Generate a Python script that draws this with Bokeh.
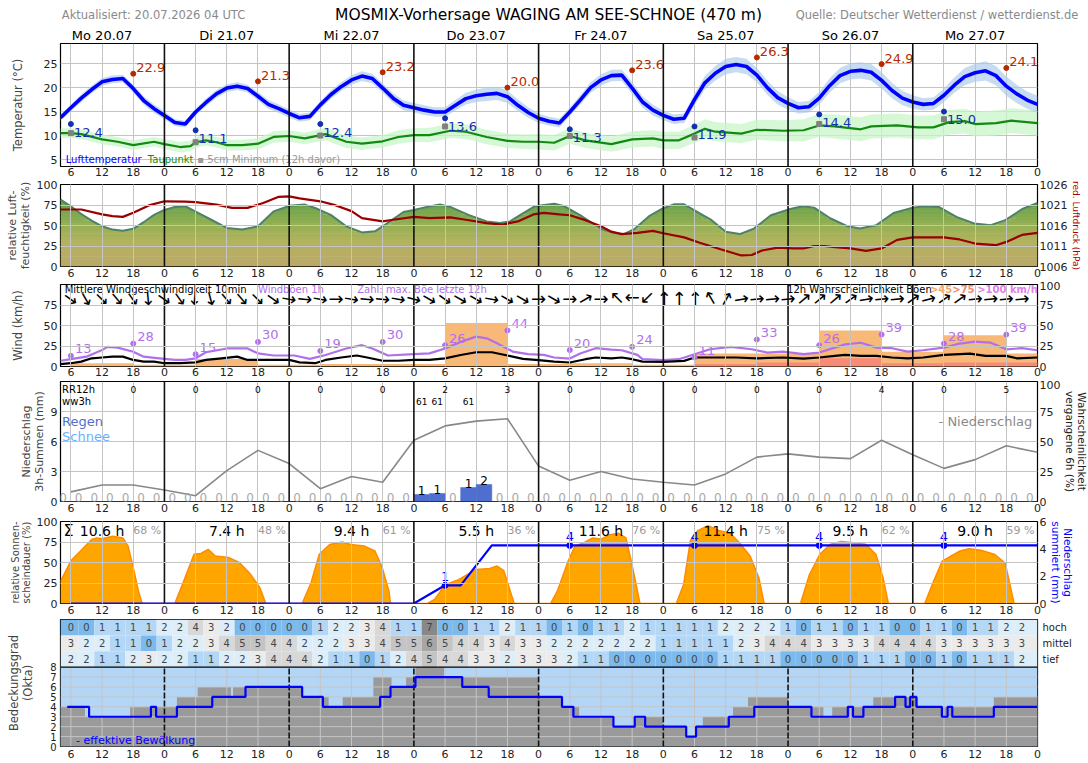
import numpy as np
from bokeh.plotting import figure
from bokeh.layouts import column
from bokeh.models import Range1d, LinearAxis, FixedTicker, Span, BoxAnnotation, Label
from bokeh.core.properties import value
from bokeh.embed import file_html
from bokeh.resources import INLINE

FONT = "DejaVu Sans"

# ---------------------------------------------------------------- time axis
# hours after Mo 20.07 00 UTC
T_START, T_END = 4, 192
DAYS = ["Mo 20.07", "Di 21.07", "Mi 22.07", "Do 23.07",
        "Fr 24.07", "Sa 25.07", "So 26.07", "Mo 27.07"]
HOUR_TICKS = list(range(6, 193, 6))
DAY_BOUNDS = list(range(24, 192, 24))

# ---------------------------------------------------------------- temperature
temp_h = list(range(4, 193, 2))
temp_c = [13.7, 15.8, 17.8, 19.6, 21.2, 21.7, 21.9, 19.8, 17.3, 15.6,
          14.2, 12.7, 12.4, 14.9, 16.9, 18.7, 19.9, 20.3, 19.8, 18.2, 16.5, 15.6,
          14.6, 13.7, 14.0, 16.4, 18.5, 20.2, 21.6, 22.4, 21.9, 19.9, 17.8, 16.3,
          15.8, 15.3, 14.9, 14.9, 16.3, 17.7, 18.3, 18.6, 18.8, 18.1, 16.3, 14.8,
          13.6, 13.0, 12.6, 14.9, 17.4, 20.0, 21.6, 22.5, 22.6, 19.9, 17.0, 15.3,
          14.2, 13.4, 13.6, 17.5, 21.0, 23.0, 24.4, 24.8, 24.4, 22.6, 20.0, 17.9,
          16.7, 15.8, 16.0, 17.8, 20.4, 22.5, 23.4, 23.6, 23.2, 21.5, 19.4, 17.8,
          17.0, 16.5, 16.7, 18.4, 20.5, 22.3, 23.1, 23.5, 22.5, 20.3, 18.7, 17.4, 16.5]
temp_spread = [0.7, 0.7, 0.8, 0.8, 0.8, 0.8, 0.8, 0.8, 0.9, 0.9,
               0.8, 0.7, 0.7, 0.7, 0.8, 0.8, 0.8, 0.8, 0.8, 0.9, 0.9, 0.9,
               0.9, 0.8, 0.8, 0.8, 0.9, 0.9, 1.0, 1.0, 1.0, 1.0, 1.0, 1.0,
               1.0, 1.0, 1.0, 1.0, 1.1, 1.2, 1.3, 1.4, 1.4, 1.3, 1.2, 1.1,
               1.0, 0.9, 0.9, 0.9, 1.0, 1.1, 1.2, 1.2, 1.2, 1.2, 1.2, 1.1,
               1.0, 1.0, 1.0, 1.2, 1.4, 1.5, 1.6, 1.6, 1.6, 1.5, 1.5, 1.4,
               1.3, 1.2, 1.2, 1.3, 1.5, 1.6, 1.7, 1.7, 1.7, 1.7, 1.6, 1.5,
               1.4, 1.3, 1.3, 1.4, 1.6, 1.8, 1.9, 2.0, 2.0, 2.0, 1.9, 1.8, 1.8]
dew_h = [4, 6, 8, 12, 15, 18, 22, 24, 27, 29, 30, 32, 34, 36, 39, 42, 45, 48, 51, 55,
         59, 62, 66, 69, 72, 75, 79, 82, 86, 90, 93, 96, 99, 102, 105, 110, 114, 118,
         120, 123, 126, 128, 130, 135, 138, 143, 147, 150, 153, 158, 160, 165, 169,
         172, 175, 178, 180, 184, 187, 192]
dew_c = [10.5, 10.5, 10.3, 9.2, 8.7, 8.0, 8.7, 8.2, 7.6, 7.8, 8.6, 9.0, 8.6, 8.0, 8.0,
         8.3, 9.7, 9.9, 9.4, 10.3, 8.7, 8.3, 8.8, 9.7, 10.1, 10.1, 11.0, 10.8, 9.7, 8.9,
         8.7, 8.7, 8.5, 9.9, 9.0, 8.2, 9.2, 9.4, 9.0, 9.0, 10.4, 11.4, 10.8, 10.4, 11.2,
         11.0, 11.1, 12.1, 11.9, 11.3, 11.9, 12.1, 11.7, 11.7, 12.8, 13.0, 12.4, 12.6,
         13.1, 12.6]
dew_spread = [1.0, 1.0, 1.0, 1.0, 1.0, 1.0, 1.0, 1.0, 1.1, 1.1, 1.1, 1.1, 1.1, 1.1, 1.1,
              1.2, 1.2, 1.2, 1.2, 1.3, 1.3, 1.3, 1.3, 1.4, 1.4, 1.5, 1.5, 1.5, 1.5, 1.5,
              1.5, 1.6, 1.6, 1.6, 1.6, 1.6, 1.7, 1.7, 1.8, 1.8, 1.9, 2.0, 2.0, 2.0, 2.1,
              2.2, 2.3, 2.4, 2.5, 2.5, 2.5, 2.5, 2.5, 2.5, 2.6, 2.6, 2.6, 2.6, 2.6, 2.6]
tmax_h = [18, 42, 66, 90, 114, 138, 162, 186]
tmax = [22.9, 21.3, 23.2, 20.0, 23.6, 26.3, 24.9, 24.1]
tmin_h = [6, 30, 54, 78, 102, 126, 150, 174]
tmin = [12.4, 11.1, 12.4, 13.6, 11.3, 11.9, 14.4, 15.0]
t5cm = [10.5, 8.6, 10.0, 11.9, 9.9, 9.6, 12.4, 13.4]

# ---------------------------------------------------------------- humidity / pressure
hum_h = [4, 6, 8, 10, 12, 14, 16, 18, 20, 22, 24, 26, 28, 30, 33, 36, 39, 42, 45, 48,
         51, 53, 56, 59, 62, 64.5, 66.5, 70, 72, 74.5, 77, 79, 82.5, 86, 88.5, 90.5,
         92.5, 95.3, 99, 101, 104.4, 108, 110.4, 112.4, 114.5, 117.2, 119.8, 122, 124,
         126, 129.3, 132, 134.7, 137.4, 140.7, 144, 146.8, 149, 152.2, 155.5, 157.8,
         161, 164.3, 168, 170.3, 173, 176.4, 179.8, 183, 185.8, 189.2, 192]
hum = [81.6, 73.5, 64, 56, 49, 45, 43.7, 46, 54, 63, 69, 72.7, 73.5, 67, 57, 47, 45,
       49, 67, 74, 75.5, 71.4, 63, 49, 41.6, 42.9, 51, 66.5, 69, 72.7, 75.5, 72.7, 63,
       55, 53, 55, 63, 73.5, 76.6, 73.4, 61, 46, 41, 39.5, 46, 61, 70.6, 75.8, 75.8,
       68.5, 56.5, 42.3, 39.5, 46, 62.5, 69.4, 73.4, 71.8, 58.5, 49, 46.4, 50.4, 65.3,
       71.8, 73.4, 72.6, 60.5, 52.4, 50.4, 56.5, 70.6, 77.4]
pres_h = [4, 8, 12, 14, 16, 18, 21, 24, 28, 30, 34, 37, 40, 43, 46, 48, 50, 54, 57, 60,
          62, 66, 68, 72, 75, 79, 82, 86, 89, 92, 95, 97, 100, 102, 105, 108, 110, 112,
          115, 118, 120, 124, 127, 131, 135, 137, 139, 142, 145, 147, 149, 151, 153,
          156, 159, 162, 165, 168, 174, 177, 180, 184, 186, 189, 192]
pres = [1019.9, 1019.9, 1018.7, 1018.3, 1018.1, 1019.1, 1020.9, 1021.9, 1021.8, 1021.7,
        1021.1, 1020.3, 1020.3, 1021.5, 1023.0, 1023.1, 1022.6, 1021.9, 1020.9, 1019.5,
        1017.8, 1017.0, 1017.4, 1018.1, 1017.8, 1018.0, 1017.4, 1016.6, 1016.2, 1017.0,
        1018.7, 1019.1, 1018.7, 1018.5, 1017.3, 1015.8, 1014.5, 1013.9, 1014.2, 1014.7,
        1014.1, 1013.1, 1011.8, 1010.2, 1008.7, 1008.8, 1009.9, 1010.6, 1010.4, 1010.4,
        1011.0, 1011.0, 1010.7, 1010.4, 1009.8, 1010.4, 1012.5, 1013.1, 1013.1, 1012.6,
        1011.6, 1011.2, 1012.0, 1013.7, 1014.2]

# ---------------------------------------------------------------- wind
wind_h = [4, 6, 8, 10, 12, 14, 16, 18, 20, 22, 24, 27, 30, 32, 35, 38, 40, 44, 48, 50,
          53, 55, 58, 61, 63, 66, 69, 72, 75, 78, 81, 84, 87, 90, 93, 96, 99, 102, 105,
          107, 110, 112, 114, 116, 120, 124, 126, 130, 134, 138, 143, 147, 150, 153,
          155, 158, 161, 164, 167, 170, 174, 179, 182, 186, 188, 192]
wind = [2.8, 4, 6, 10, 11, 12, 12, 8, 6, 6, 4, 4, 5, 8, 10, 12, 8, 8, 8, 5, 4, 8, 11,
        13.4, 11, 7, 7, 8, 8, 10, 14, 17.4, 17.4, 13.4, 9.3, 7.7, 6, 4.9, 8.9, 11, 10,
        11, 8.9, 6, 5.7, 6.9, 11, 11, 11, 10, 11, 9.7, 11, 13, 14.2, 13, 13, 11, 10, 11,
        14.2, 15.8, 13, 13, 10, 11]
gust_h = [4, 6, 9, 12, 13, 15, 18, 20, 23, 26, 28, 30, 32, 36, 40, 42, 45, 49, 52, 55,
          59, 62, 64, 67, 72, 75, 78, 81, 84, 86, 88, 91, 94, 97, 99, 102, 104, 107, 110,
          112, 115, 116, 120, 123, 126, 129, 133, 137, 140, 143, 147, 150, 153, 155, 158,
          161, 164, 167, 170, 174, 177, 180, 183, 186, 189, 192]
gust = [7, 9, 12, 20, 24, 23, 18, 12, 10, 8, 8, 10, 17.4, 22, 22, 16, 13.4, 13.4, 9.3,
        14, 22, 26, 22, 13.4, 15, 16, 22, 30, 36.4, 34.4, 28.3, 18.2, 15, 14.2, 11, 9.7,
        15.8, 22.3, 20.6, 19.8, 14.2, 8.9, 7.7, 8.9, 15, 21, 23.9, 21, 17, 18.2, 15, 17,
        23, 27, 29, 23, 22.3, 18.2, 19.8, 23, 28, 30.4, 29, 21, 22.3, 19.8]
gmax_h = list(range(6, 187, 12))
gmax = [13, 28, 15, 30, 19, 30, 26, 44, 20, 24, 11, 33, 26, 39, 28, 39]
# 12h gust probabilities (%), blocks starting at these hours
gprob_start = list(range(-6, 187, 12))
gprob45 = [0, 4, 2, 9, 2, 3, 3, 53, 3, 4, 2, 16, 16, 44, 18, 38, 16]
gprob75 = [0, 0, 0, 0, 0, 0, 0, 0, 0, 0, 0, 3, 5, 10, 4, 5, 5]
# wind direction (deg, meteorological) every 3 h
wdir_h = list(range(6, 190, 3))
wdir = [305, 330, 315, 320, 325, 355, 305, 325, 5, 345, 320, 320, 315, 305,
        280, 275, 280, 270, 280, 275, 275, 280, 285, 300, 305, 300, 300, 280,
        300, 300, 270, 300, 270, 240, 270, 135, 90, 45, 180, 180, 180, 150,
        210, 260, 265, 265, 265, 230, 230, 230, 235, 260, 265, 265, 235, 255,
        235, 235, 265, 265, 265, 265]

# ---------------------------------------------------------------- precipitation
rain3_start = list(range(3, 190, 3))
rain3 = [0, 0, 0, 0, 0, 0, 0, 0, 0, 0, 0, 0, 0, 0, 0, 0, 0, 0, 0, 0, 0,
         0, 0, 0.7, 0.8, 0, 1.4, 1.7, 0, 0, 0, 0, 0, 0, 0, 0, 0, 0, 0, 0, 0,
         0, 0, 0, 0, 0, 0, 0, 0, 0, 0, 0, 0, 0, 0, 0, 0, 0, 0, 0, 0, 0, 0]
prob_h = list(range(6, 193, 6))
prob = [8, 13.7, 13.7, 9.6, 4.8, 25.7, 42.6, 31.6, 10.7, 20.9, 16, 51, 63, 67, 69, 29.5,
        17.7, 25, 18.8, 16, 13.7, 23, 37, 39.7, 37, 35.7, 51, 38.9, 27.6, 34.9, 46.4, 41]
rr12_h = list(range(18, 187, 12))
rr12 = [0, 0, 0, 0, 0, 2, 3, 0, 0, 0, 0, 0, 4, 0, 5]
ww3_h = [73.5, 76.5, 82.5]
ww3 = ["61", "61", "61"]

# ---------------------------------------------------------------- sunshine
sun_h = [4, 6, 8, 10, 11, 12, 14, 16, 17, 18, 19, 19.7,
         26, 27.7, 29.7, 31, 32.4, 33.8, 36.4, 38.4, 40.4, 42.4, 43.5,
         50.5, 52.2, 53.8, 55.8, 58.2, 59.8, 62.5, 64.5, 65.9, 67.2, 67.5,
         74.6, 76, 78, 80.6, 84, 86.6, 88, 89.3, 91.3,
         98.3, 99.6, 101.7, 103, 105, 106.4, 108, 109.7, 111.4, 112.8, 114.1, 115.5,
         122.5, 123.9, 125.2, 126.6, 128.6, 130.6, 132.9, 134.6, 136.7, 138.4, 139.4,
         146.4, 148.1, 150.1, 152.2, 154.2, 156.2, 158.9, 160.9, 162.3, 163.3,
         170.3, 172, 173.7, 177.1, 178.8, 181.1, 183.8, 185.8, 187.5, 192]
sun = [27, 52, 65, 78, 80, 79, 82, 80, 70, 44, 15, 0,
       0, 27, 60, 61, 66, 58, 56, 50, 37, 19, 0,
       0, 25, 60, 72, 75, 72, 70, 64, 44, 15, 0,
       0, 5, 23, 29, 41.5, 42.8, 45.7, 40, 0,
       0, 15, 52, 70, 75, 80, 78.6, 84, 85.6, 80, 43.6, 0,
       0, 23, 76.5, 88.9, 95, 89, 85.6, 74.5, 58, 31, 0,
       0, 35, 60, 72.4, 75.7, 74.5, 72.4, 60, 31, 0,
       0, 27, 52, 64, 66.7, 65, 59.7, 49, 0, 0]
sun_sum = [10.6, 7.4, 9.4, 5.5, 11.6, 11.4, 9.5, 9.0]
sun_pct = [68, 48, 61, 36, 76, 75, 62, 59]
acc_h = [6, 72, 78, 81, 87, 192]
acc = [0, 0, 1.33, 1.33, 4.25, 4.25]
acc_dot_h = [78, 102, 126, 150, 174]
acc_dot = [1.33, 4.25, 4.25, 4.25, 4.25]

# ---------------------------------------------------------------- clouds
cl_h = list(range(6, 190, 3))
cl_high = [0, 0, 1, 1, 1, 1, 2, 2, 4, 3, 2, 0, 0, 0, 0, 0, 1, 2, 2, 3, 4, 1, 1, 7, 0, 0,
           1, 1, 2, 1, 1, 0, 1, 0, 1, 1, 2, 1, 1, 1, 1, 1, 2, 2, 2, 2, 1, 0, 1, 1, 0, 1,
           1, 0, 0, 1, 1, 0, 1, 1, 2, 2]
cl_mid = [3, 2, 2, 1, 1, 0, 1, 2, 2, 3, 4, 5, 5, 4, 4, 2, 2, 2, 3, 3, 4, 5, 5, 6, 5, 4,
          4, 3, 4, 3, 3, 2, 2, 2, 2, 2, 2, 2, 1, 1, 1, 1, 1, 2, 3, 4, 4, 4, 3, 3, 3, 3,
          4, 4, 4, 4, 3, 3, 3, 3, 3, 3]
cl_low = [2, 2, 1, 1, 2, 3, 2, 2, 1, 1, 2, 2, 3, 4, 4, 4, 2, 1, 1, 0, 1, 2, 4, 5, 4, 4,
          3, 3, 2, 3, 3, 3, 2, 1, 1, 0, 0, 0, 0, 0, 0, 0, 1, 1, 1, 1, 0, 0, 0, 0, 0, 1,
          1, 1, 0, 0, 1, 0, 1, 1, 1, 2]
cl_tot_h = [4, 8.7, 17.4, 26.4, 30.4, 36.8, 37.2, 50.4, 55.6, 58.3, 64.2, 67.7, 70.5,
            72.3, 77.8, 96, 100.3, 103.8, 110.4, 114.5, 119.9, 124.4, 126.3, 127.6,
            133.4, 136.3, 144, 150.8, 152.5, 160.4, 164.6, 169, 183.6, 192]
cl_tot = [4, 3, 4, 5, 6, 5, 6, 5, 4, 5, 7, 6, 7, 8, 7, 5, 4, 3, 2, 3, 2, 1, 2, 3, 4, 5,
          4, 3, 4, 5, 5, 4, 5, 5]
cl_eff_h = [5.3, 9.5, 21.4, 22.4, 26.4, 33.2, 39.6, 50.5, 54.5, 65.5, 67.5, 72.3, 81.3,
            86.4, 100.5, 102.7, 110.4, 114.5, 116.5, 124.4, 126.3, 132.6, 137.5, 148.5,
            155.5, 156.5, 158.5, 164.6, 166.6, 167.5, 168.7, 173.6, 174.7, 175.6, 183.6, 192]
cl_eff = [4, 3, 4, 3, 4, 5, 6, 5, 4, 5, 6, 7, 6, 5, 4, 3, 2, 3, 2, 1, 2, 3, 4, 3, 4, 3,
          4, 5, 4, 5, 4, 3, 4, 3, 4, 4]

CELL_COLORS = {0: "#7cb9ec", 1: "#b4d7f5", 2: "#ddeef9", 3: "#ebebeb", 4: "#d8d8d8",
               5: "#c4c4c4", 6: "#a6a6a6", 7: "#888888", 8: "#6e6e6e"}

GRID = "#c4c4c4"
FRAME_W = 977
BORDER_L, BORDER_R = 60, 51


def style_axis(ax, size="11px", label_size="11.5px"):
    ax.axis_line_color = None
    ax.major_tick_line_color = None
    ax.minor_tick_line_color = None
    ax.major_tick_out = 0
    ax.major_tick_in = 0
    ax.major_label_text_font = FONT
    ax.major_label_text_font_size = size
    ax.major_label_text_color = "#222222"
    ax.axis_label_text_font = FONT
    ax.axis_label_text_font_size = label_size
    ax.axis_label_text_font_style = "normal"
    ax.axis_label_text_line_height = 1.0


def panel(frame_h, yr, top, bottom, yticks, ylabel, label_standoff=2, label_size="11.5px",
          grid_front=True, xlabel_standoff=2):
    p = figure(frame_width=FRAME_W, frame_height=frame_h,
               x_range=Range1d(T_START, T_END), y_range=Range1d(*yr),
               output_backend="svg", toolbar_location=None,
               min_border_left=BORDER_L, min_border_right=BORDER_R,
               min_border_top=top, min_border_bottom=bottom)
    p.outline_line_color = "black"
    p.outline_line_width = 1.2
    xa = p.xaxis[0]
    style_axis(xa)
    xa.ticker = FixedTicker(ticks=HOUR_TICKS)
    xa.major_label_overrides = {h: str(h % 24) for h in HOUR_TICKS}
    xa.major_label_standoff = xlabel_standoff
    ya = p.yaxis[0]
    style_axis(ya, label_size=label_size)
    ya.ticker = FixedTicker(ticks=yticks)
    ya.major_label_standoff = 3
    ya.axis_label = ylabel
    ya.axis_label_standoff = label_standoff
    p.xgrid.ticker = FixedTicker(ticks=[h for h in HOUR_TICKS if h % 24])
    p.ygrid.ticker = FixedTicker(ticks=yticks)
    p.grid.grid_line_color = GRID
    p.grid.grid_line_width = 1
    if grid_front:
        p.grid.level = "overlay"
    for d in DAY_BOUNDS:
        p.add_layout(Span(location=d, dimension="height", line_color="#111111",
                          line_width=1.6))
    return p


def right_axis(p, rng_name, ticks, label, color="#222222", label_size="11px"):
    ax = LinearAxis(y_range_name=rng_name, ticker=FixedTicker(ticks=ticks))
    style_axis(ax, label_size=label_size)
    ax.major_label_standoff = 2
    ax.axis_label = label
    ax.axis_label_standoff = 1
    ax.axis_label_text_color = color
    p.add_layout(ax, "right")
    return ax


def txt(p, x, y, t, size="10px", color="black", align="left", baseline="middle", **kw):
    return p.text(x=x, y=y, text=t, text_font=value(FONT), text_font_size=size,
                  text_color=color, text_align=align, text_baseline=baseline, **kw)


# ================================================================ header
# page coordinates in pixels; the side notes are set as labels of the
# bottom axis so that they may reach past the frame into the right margin
head = figure(frame_width=FRAME_W, frame_height=24, x_range=Range1d(60, 1037),
              y_range=Range1d(0, 24), output_backend="svg", toolbar_location=None,
              min_border_left=BORDER_L, min_border_right=BORDER_R,
              min_border_top=0, min_border_bottom=0)
head.yaxis.visible = False
head.grid.visible = False
head.outline_line_color = None
hx = head.xaxis[0]
style_axis(hx, size="11.5px")
hx.major_label_text_color = "#8a8a8a"
hx.ticker = FixedTicker(ticks=[153, 936.5])
hx.major_label_overrides = {153: "Aktualisiert: 20.07.2026 04 UTC",
                            936.5: "Quelle: Deutscher Wetterdienst / wetterdienst.de"}
hx.major_label_standoff = -17
head.add_layout(Label(x=548, y=10, text="MOSMIX-Vorhersage WAGING AM SEE-SCHNOE (470 m)",
                      text_font=FONT, text_font_size="15.5px", text_color="black",
                      text_align="center", text_baseline="middle"))

# ================================================================ temperature
p1 = panel(123, (3.54, 29.2), 18, 14, [5, 10, 15, 20, 25], "Temperatur (°C)",
           label_standoff=16, grid_front=False, xlabel_standoff=1)
top_ax = LinearAxis(ticker=FixedTicker(ticks=[12 + 24 * i for i in range(8)]))
style_axis(top_ax, size="13px")
top_ax.major_label_text_color = "black"
top_ax.major_label_overrides = {12 + 24 * i: d for i, d in enumerate(DAYS)}
top_ax.major_label_standoff = 1
p1.add_layout(top_ax, "above")

t_arr = np.array(temp_c)
t_sp = np.array(temp_spread)
d_arr = np.array(dew_c)
d_sp = np.array(dew_spread)
p1.varea(x=dew_h, y1=d_arr - d_sp, y2=d_arr + d_sp, fill_color="#c8f5c8", fill_alpha=0.75)
p1.varea(x=temp_h, y1=t_arr - t_sp, y2=t_arr + t_sp, fill_color="#a9c8ea", fill_alpha=0.65)
p1.line(dew_h, dew_c, line_color="#128a12", line_width=2.2)
p1.line(temp_h, temp_c, line_color="#0000ff", line_width=3.6)
p1.scatter(tmax_h, tmax, size=5, color="#b52a00")
txt(p1, tmax_h, tmax, [f"{v:.1f}" for v in tmax], size="13px", color="#b52a00",
    x_offset=3, y_offset=-6)
p1.scatter(tmin_h, tmin, size=5, color="#1030b0")
p1.scatter(tmin_h, t5cm, size=5, marker="square", color="#808080")
txt(p1, tmin_h, tmin, [f"{v:.1f}" for v in tmin], size="13px", color="#1030b0",
    x_offset=3, y_offset=8)
txt(p1, [5.0], [4.9], ["Lufttemperatur"], color="#0000ff")
txt(p1, [20.8], [4.9], ["Taupunkt"], color="#128a12")
txt(p1, [30.3], [4.9], ["▪ 5cm Minimum (12h davor)"], color="#9a9a9a")

# ================================================================ humidity / pressure
p2 = panel(82, (0, 100), 4, 15, [0, 25, 50, 75, 100], "relative Luft-\nfeuchtigkeit (%)",
           label_size="11px")
p2.extra_y_ranges = {"hpa": Range1d(1006, 1026)}
right_axis(p2, "hpa", [1006, 1011, 1016, 1021, 1026], "red. Luftdruck (hPa)",
           color="#b00000", label_size="9px")
hum_arr = np.array(hum)
stops = [(0, (0xbb, 0xa8, 0x6a)), (30, (0xb3, 0xb3, 0x5e)), (55, (0x8e, 0xae, 0x52)),
         (80, (0x62, 0x9e, 0x48)), (100, (0x50, 0x90, 0x40))]


def band_color(level):
    for (l0, c0), (l1, c1) in zip(stops[:-1], stops[1:]):
        if l0 <= level <= l1:
            f = (level - l0) / (l1 - l0)
            c = [round(a + (b - a) * f) for a, b in zip(c0, c1)]
            return "#%02x%02x%02x" % tuple(c)
    return "#509040"


for k in range(0, 100, 4):
    p2.varea(x=hum_h, y1=np.minimum(hum_arr, k), y2=np.minimum(hum_arr, k + 4.6),
             fill_color=band_color(k + 2))
p2.line(hum_h, hum, line_color="#4f8068", line_width=2)
p2.line(pres_h, pres, y_range_name="hpa", line_color="#9a0000", line_width=2.2)

# ================================================================ wind
p3 = panel(82, (0, 100), 3, 14, [0, 25, 50, 75], "Wind (km/h)", label_standoff=16,
           xlabel_standoff=1)
p3.extra_y_ranges = {"pct": Range1d(0, 100)}
right_axis(p3, "pct", [0, 25, 50, 75, 100], "")
g_left = [max(s, T_START) for s in gprob_start]
g_right = [min(s + 12, T_END) for s in gprob_start]
p3.quad(left=g_left, right=g_right, bottom=0, top=gprob45, y_range_name="pct",
        fill_color="#f8b878", line_color=None)
p3.quad(left=g_left, right=g_right, bottom=0, top=gprob75, y_range_name="pct",
        fill_color="#f88a78", line_color=None)
p3.line(gust_h, gust, line_color="#b070ec", line_width=2.2)
p3.line(wind_h, wind, line_color="black", line_width=2.2)
p3.scatter(gmax_h, gmax, size=5, color="#b070ec")
txt(p3, gmax_h, gmax, [str(v) for v in gmax], size="13px", color="#b070ec",
    x_offset=4, y_offset=-7)
arrow_angle = [np.deg2rad(-90 - d) for d in wdir]
txt(p3, wdir_h, [83] * len(wdir_h), ["→"] * len(wdir_h), size="18px", align="center",
    angle=arrow_angle)
txt(p3, [4.8], [94.5], ["Mittlere Windgeschwindigkeit 10min"])
txt(p3, [42.0], [94.5], ["Windböen 1h"], color="#b070ec")
txt(p3, [61.1], [94.5], ["Zahl: max. Böe letzte 12h"], color="#b070ec")
txt(p3, [143.8], [94.5], ["12h Wahrscheinlichkeit Böen"])
txt(p3, [171.3], [94.5], [">45"], color="#f0a868", font_style="bold")
txt(p3, [175.6], [94.5], [">75"], color="#f08a70", font_style="bold")
txt(p3, [180.4], [94.5], [">100 km/h"], color="#e080e8", font_style="bold")

# ================================================================ precipitation
p4 = panel(120, (0, 12), 1, 15, [0, 3, 6, 9], "Niederschlag\n3h-Summen (mm)",
           label_size="11px", grid_front=False)
p4.extra_y_ranges = {"pp": Range1d(0, 100)}
right_axis(p4, "pp", [0, 25, 50, 75, 100], "Wahrscheinlichkeit\nvergangene 6h (%)",
           label_size="10.5px")
p4.line(prob_h, prob, y_range_name="pp", line_color="#888888", line_width=1.6)
r_left = np.array(rain3_start, dtype=float)
p4.quad(left=r_left, right=r_left + 3, bottom=0, top=rain3, fill_color="#4f6fd0",
        line_color="#4f6fd0", line_width=0.5)
r_lab = [str(round(v)) for v in rain3]
r_col = ["#aaaaaa" if v == 0 else "black" for v in rain3]
txt(p4, list(r_left + 1.5), rain3, r_lab, size="12px", color=r_col, align="center",
    baseline="bottom")
txt(p4, rr12_h, [11.2] * len(rr12_h), [str(v) for v in rr12], size="9px", align="center")
txt(p4, ww3_h, [10.0] * len(ww3_h), ww3, size="9px", align="center")
txt(p4, [4.3], [11.2], ["RR12h"])
txt(p4, [4.3], [10.0], ["ww3h"])
txt(p4, [4.3], [8.0], ["Regen"], size="13px", color="#4f6fd0")
txt(p4, [4.3], [6.5], ["Schnee"], size="13px", color="#66b3ff")
txt(p4, [191.0], [8.0], ["- Niederschlag"], size="13px", color="#8a8a8a", align="right")

# ================================================================ sunshine
p5 = panel(82, (0, 100), 5, 15, [0, 25, 50, 75, 100], "relative Sonnen-\nscheindauer (%)",
           label_size="10px")
p5.extra_y_ranges = {"acc": Range1d(0, 6)}
right_axis(p5, "acc", [0, 2, 4, 6], "Niederschlag\nsummiert (mm)", color="#0000ff",
           label_size="10.5px")
p5.varea(x=sun_h, y1=0, y2=sun, fill_color="#ffa500")
p5.line(sun_h, sun, line_color="#ff8c00", line_width=1.5)
p5.line(acc_h, acc, y_range_name="acc", line_color="#0000ff", line_width=2.2)
p5.scatter(acc_dot_h, acc_dot, y_range_name="acc", size=6, color="#0000ff")
txt(p5, acc_dot_h, acc_dot, [str(round(v)) for v in acc_dot], y_range_name="acc",
    size="13px", color="#0000ff", align="center", baseline="bottom", y_offset=-4)
noon = [12 + 24 * i for i in range(8)]
txt(p5, noon, [89] * 8, [f"{v:.1f} h" for v in sun_sum], size="14px", align="center")
txt(p5, [24 * i + 23.4 for i in range(8)], [89] * 8, [f"{v} %" for v in sun_pct],
    size="11px", color="#999999", align="right")
txt(p5, [4.6], [89], ["Σ"], size="16px")

# ================================================================ clouds
ROW = 1.6
p6 = figure(frame_width=FRAME_W, frame_height=127,
            x_range=Range1d(T_START, T_END), y_range=Range1d(0, 8 + 3 * ROW),
            output_backend="svg", toolbar_location=None,
            min_border_left=BORDER_L, min_border_right=BORDER_R,
            min_border_top=1, min_border_bottom=18)
p6.outline_line_color = "black"
p6.outline_line_width = 1.2
p6.grid.visible = False
xa6 = p6.xaxis[0]
style_axis(xa6)
xa6.ticker = FixedTicker(ticks=HOUR_TICKS)
xa6.major_label_overrides = {h: str(h % 24) for h in HOUR_TICKS}
xa6.major_label_standoff = 3
ya6 = p6.yaxis[0]
style_axis(ya6, size="10px")
ya6.ticker = FixedTicker(ticks=list(range(0, 9)))
ya6.major_label_standoff = 4
ya6.axis_label = "Bedeckungsgrad\n(Okta)"
ya6.axis_label_standoff = 12
row_mid = [8 + 2.5 * ROW, 8 + 1.5 * ROW, 8 + 0.5 * ROW]
ax_r6 = LinearAxis(ticker=FixedTicker(ticks=row_mid))
style_axis(ax_r6, size="10px")
ax_r6.major_label_overrides = {row_mid[0]: "hoch", row_mid[1]: "mittel", row_mid[2]: "tief"}
ax_r6.major_label_standoff = 5
p6.add_layout(ax_r6, "right")

p6.add_layout(BoxAnnotation(bottom=0, top=8, fill_color="#b4d6f6", fill_alpha=1,
                            line_color=None, level="underlay"))
p6.varea_step(x=cl_tot_h, y1=[0] * len(cl_tot_h), y2=cl_tot, step_mode="after",
              fill_color="#9a9a9a")
grid_x = [h for h in HOUR_TICKS if h % 24 and h < T_END]
p6.segment(x0=grid_x, y0=0, x1=grid_x, y1=8, line_color=GRID, line_width=1)
p6.segment(x0=T_START, y0=list(range(1, 8)), x1=T_END, y1=list(range(1, 8)),
           line_color=GRID, line_width=1)
p6.segment(x0=DAY_BOUNDS, y0=0, x1=DAY_BOUNDS, y1=8, line_color="#111111",
           line_width=1.6, line_dash="6 2")
p6.step(cl_eff_h, cl_eff, mode="after", line_color="#0000ff", line_width=2.2)
p6.add_layout(Span(location=8, dimension="width", line_color="black", line_width=1.4))

c_left = [T_START] + [h - 1.5 for h in cl_h[1:]]
c_right = [h + 1.5 for h in cl_h[:-1]] + [T_END]
for i, vals in enumerate([cl_high, cl_mid, cl_low]):
    y0 = 8 + (2 - i) * ROW
    p6.quad(left=c_left, right=c_right, bottom=y0, top=y0 + ROW,
            fill_color=[CELL_COLORS[v] for v in vals], line_color=None)
    txt(p6, cl_h, [y0 + ROW / 2] * len(cl_h), [str(v) for v in vals],
        color="#444444", align="center")
txt(p6, [7.0], [0.6], ["- effektive Bewölkung"], size="11px", color="#0000ff")

layout = column(head, p1, p2, p3, p4, p5, p6, spacing=0)
open("out.html", "w").write(file_html(layout, INLINE))
